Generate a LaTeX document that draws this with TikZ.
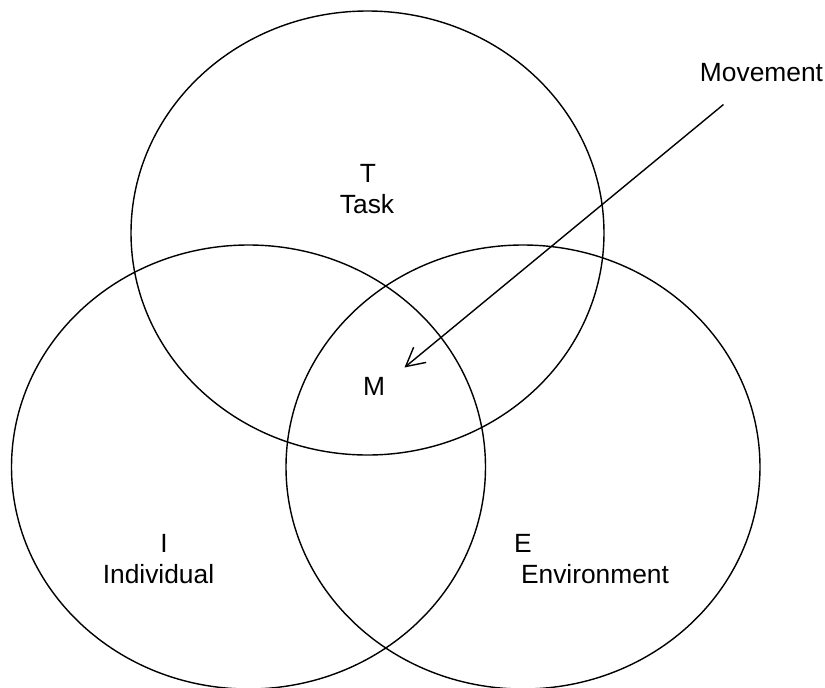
\documentclass[tikz,border=0pt]{standalone}
\usepackage{fontspec}
\setmainfont{Liberation Sans}
\usepackage{tikz}
\usetikzlibrary{arrows.meta}
\tikzset{lbl/.style={anchor=base, inner sep=0pt, font=\fontsize{15}{18}\selectfont}}

\begin{document}
\begin{tikzpicture}[line width=0.8pt]
			%%%%% START %%%%%
			\useasboundingbox (0, 0) rectangle (16.5, -13.76);
			
			% task
			\draw (7.35, -4.66) ellipse (4.73 and 4.44);
			\node[lbl] (tletter) at (7.36, -3.64) {T};
			\node[lbl] (task) at (7.34, -4.26) {Task};
			
			% individual
			\draw (4.97, -9.34) ellipse (4.74 and 4.44);
			\node[lbl] (iletter) at (3.28, -11.04) {I};
			\node[lbl] (individual) at (3.17, -11.66) {Individual};
			
			% environment
			\draw (10.46, -9.34) ellipse (4.74 and 4.44);
			\node[lbl] (eletter) at (10.46, -11.04) {E};
			\node[lbl] (environment) at (11.90, -11.66) {Environment};
			
			% movement
			\node[lbl] (mletter) at (7.48, -7.90) {M};
			\node[lbl] (movement) at (15.23, -1.62) {Movement};
			\coordinate (mvstart) at (14.47, -2.09);
			\coordinate (mvtip) at (8.09, -7.35);
			\draw[-{Straight Barb[length=10.5pt, width=11.2pt]}] (mvstart) -- (mvtip);
			
			%%%%% END %%%%%
\end{tikzpicture}
\end{document}
